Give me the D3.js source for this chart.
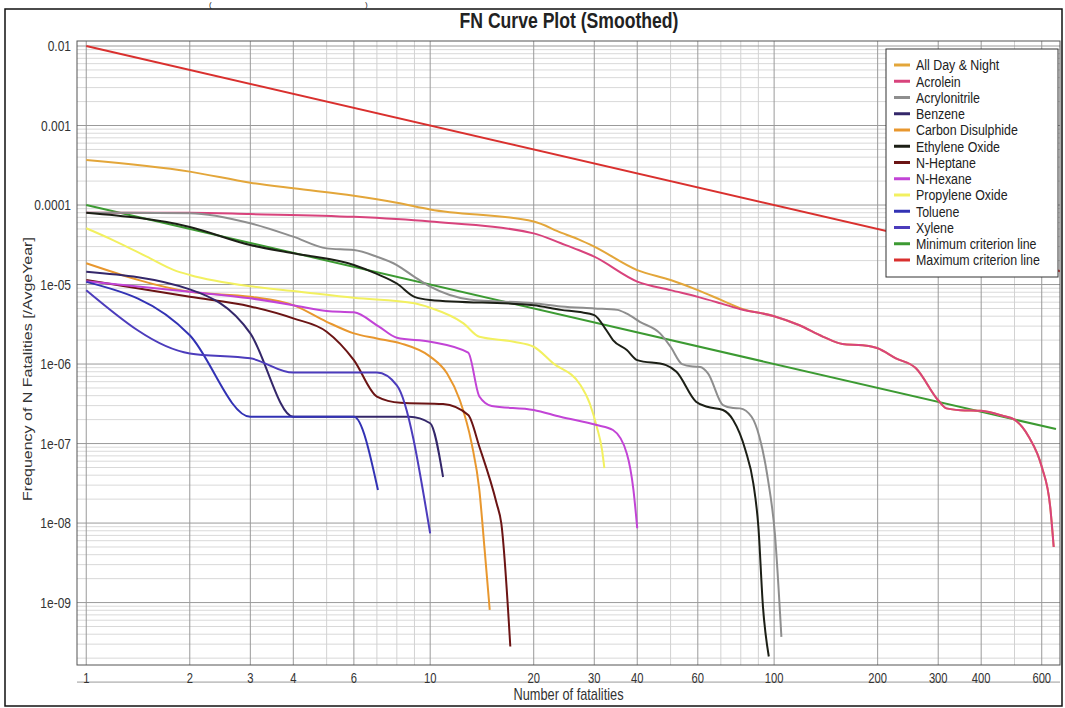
<!DOCTYPE html>
<html lang="en">
<head>
<meta charset="UTF-8">
<title>FN Curve Plot (Smoothed)</title>
<script src="https://d3js.org/d3.v7.min.js"></script>
<style>
  body { margin: 0; background: #fff; }
  svg { display: block; font-family: "Liberation Sans", Arial, sans-serif; }
</style>
</head>
<body>
<svg id="chart"></svg>
<script>
// --- data: [N fatalities, frequency /yr] ---
const seriesNames = ["All Day & Night", "Acrolein", "Acrylonitrile", "Benzene", "Carbon Disulphide",
  "Ethylene Oxide", "N-Heptane", "N-Hexane", "Propylene Oxide", "Toluene", "Xylene",
  "Minimum criterion line", "Maximum criterion line"];
const seriesColors = ["#e3a63a", "#d8437c", "#8e8e8e", "#34276a", "#e8972e",
  "#1c1f16", "#6b1414", "#c244d6", "#f2f060", "#3232b4", "#4c3cbc",
  "#3c9a32", "#d9302e"];

const allDayNight = [[1,3.68e-4],[2,2.63e-4],[3,1.91e-4],[4,1.62e-4],[6,1.31e-4],[8,1.07e-4],[10,8.8e-5],
  [20,6.2e-5],[24,4.5e-5],[27,3.7e-5],[30,3.0e-5],[40,1.52e-5],[50,1.14e-5],[60,8.5e-6],[70,6.4e-6],
  [80,5.0e-6],[100,4.0e-6],[118,3.1e-6],[139,2.2e-6],[158,1.79e-6],[181,1.72e-6],[200,1.58e-6],
  [226,1.18e-6],[258,8.9e-7],[300,3.5e-7],[317,2.77e-7],[348,2.63e-7],[400,2.58e-7],[464,2.22e-7],
  [500,2.0e-7],[550,1.22e-7],[600,5.1e-8],[635,1.6e-8],[650,5.0e-9]];
const acrolein = [[1,8.0e-5],[2,8.0e-5],[3,7.7e-5],[6,7.1e-5],[10,6.2e-5],[20,4.4e-5],[24,3.3e-5],
  [27,2.72e-5],[30,2.24e-5],[40,1.09e-5],[50,8.5e-6],[60,7.0e-6],[70,5.8e-6],[80,4.9e-6],
  [100,4.0e-6],[118,3.1e-6],[139,2.2e-6],[158,1.79e-6],[181,1.72e-6],[200,1.58e-6],[226,1.18e-6],
  [258,8.9e-7],[300,3.5e-7],[317,2.77e-7],[348,2.63e-7],[400,2.58e-7],[464,2.22e-7],[500,2.0e-7],
  [550,1.22e-7],[600,5.1e-8],[635,1.6e-8],[650,5.0e-9]];
const acrylonitrile = [[1,8.0e-5],[2,7.9e-5],[3,5.9e-5],[4,4.0e-5],[5,2.85e-5],[6,2.72e-5],[7,2.24e-5],
  [8,1.76e-5],[9,1.25e-5],[10,9.4e-6],[11.4,7.4e-6],[13,6.5e-6],[20,5.8e-6],[24,5.3e-6],[30,5.0e-6],
  [35,4.8e-6],[37.3,4.3e-6],[40.7,3.4e-6],[46.6,2.43e-6],[50,1.65e-6],[54,1.0e-6],[58,9.3e-7],
  [61,9.2e-7],[64.3,7.6e-7],[71,3.05e-7],[76,2.8e-7],[79.5,2.77e-7],[86,2.17e-7],[90.6,1.22e-7],
  [96,3.5e-8],[100.5,7.4e-9],[105,3.7e-10]];
const benzene = [[1,1.45e-5],[2,8.7e-6],[3,2.43e-6],[4,2.17e-7],[8.7,2.17e-7],[10,1.8e-7],[10.9,3.8e-8]];
const carbonDisulphide = [[1,1.85e-5],[2,8.1e-6],[3,7.0e-6],[4,5.5e-6],[5,3.4e-6],[6,2.43e-6],[7,2.1e-6],
  [8.2,1.82e-6],[10,1.24e-6],[11.2,7.6e-7],[12.2,3.5e-7],[13.2,1.0e-7],[13.9,2.6e-8],[14.4,4.6e-9],
  [14.9,8.1e-10]];
const ethyleneOxide = [[1,8.0e-5],[2,5.3e-5],[3,3.14e-5],[4,2.47e-5],[6,1.76e-5],[7,1.36e-5],[8,1.03e-5],
  [9,7.0e-6],[10,6.4e-6],[20,5.5e-6],[24,4.8e-6],[27.3,4.5e-6],[30,4.13e-6],[32.5,2.68e-6],[34,2.0e-6],
  [37.3,1.5e-6],[40,1.12e-6],[48.5,9.7e-7],[52,8.0e-7],[59.3,3.36e-7],[63.9,2.9e-7],[71,2.64e-7],
  [76,1.98e-7],[82.5,8.3e-8],[87,3.16e-8],[90,9.0e-9],[92.8,8.9e-10],[96.5,2.1e-10]];
const nHeptane = [[1,1.14e-5],[2,7.0e-6],[3,5.3e-6],[4,3.75e-6],[5,2.55e-6],[6,1.12e-6],[7,3.9e-7],
  [8.2,3.26e-7],[10.9,3.14e-7],[12.9,2.28e-7],[13.9,9.1e-8],[15.6,1.77e-8],[16.1,9.9e-9],[17.1,2.8e-10]];
const nHexane = [[1,1.1e-5],[2,8.1e-6],[3,6.7e-6],[4,5.5e-6],[5,4.65e-6],[6,4.47e-6],[7.1,2.95e-6],
  [8,2.14e-6],[10,1.91e-6],[12.9,1.39e-6],[13.9,3.9e-7],[15.1,2.97e-7],[20,2.64e-7],[23.9,2.17e-7],
  [30.5,1.71e-7],[34,1.48e-7],[37.3,7.5e-8],[39,2.6e-8],[40,8.6e-9]];
const propyleneOxide = [[1,5.1e-5],[1.2,3.6e-5],[1.5,2.24e-5],[1.8,1.52e-5],[2,1.32e-5],[3,9.5e-6],
  [4,8.3e-6],[6,6.8e-6],[9,5.8e-6],[10,5.1e-6],[12.5,3.25e-6],[13.9,2.2e-6],[17.5,1.91e-6],[20,1.65e-6],
  [22.8,1.02e-6],[27.3,5.5e-7],[29.1,3.2e-7],[30.5,1.63e-7],[31.6,8.3e-8],[32.1,4.9e-8]];
const toluene = [[1,1.08e-5],[2,2.3e-6],[3,2.17e-7],[6,2.17e-7],[7.05,2.6e-8]];
const xylene = [[1,8.5e-6],[2,1.36e-6],[3,1.18e-6],[4,7.8e-7],[7,7.8e-7],[8,5.4e-7],[10,7.4e-9]];
const minCriterion = [[1,1e-4],[660,1.52e-7]];
const maxCriterion = [[1,1e-2],[680,1.47e-5]];

const seriesData = [allDayNight, acrolein, acrylonitrile, benzene, carbonDisulphide, ethyleneOxide,
  nHeptane, nHexane, propyleneOxide, toluene, xylene, minCriterion, maxCriterion];

const xTickLabels = [1, 2, 3, 4, 6, 10, 20, 30, 40, 60, 100, 200, 300, 400, 600];
const yTickLabels = ["0.01", "0.001", "0.0001", "1e-05", "1e-06", "1e-07", "1e-08", "1e-09"];

// --- layout ---
const width = 1065, height = 708;
const plot = { left: 77, top: 41, right: 1060, bottom: 665 };
const squeeze = 0.8;  // the source picture is squashed sideways, text looks narrow

const svg = d3.select("#chart").attr("width", width).attr("height", height);

// outer frame + bits of the caption cut off above
svg.append("rect").attr("x", 5).attr("y", 9).attr("width", 1057).attr("height", 697)
  .attr("fill", "#fff").attr("stroke", "#111").attr("stroke-width", 1.5);
svg.append("text").attr("x", 209).attr("y", 7).attr("font-size", 8).attr("fill", "#222").text("(");
svg.append("text").attr("x", 365).attr("y", 7).attr("font-size", 8).attr("fill", "#222").text(")");

const x = d3.scaleLog().domain([0.94, 678]).range([plot.left, plot.right]);
const y = d3.scaleLog().domain([1.64e-10, 0.01156]).range([plot.bottom, plot.top]);

// grid
const xMinor = [], xMajor = xTickLabels;
[1, 10, 100].forEach(d => { for (let k = 1; k <= 9; k++) { const v = k * d; if (v <= 670 && !xMajor.includes(v)) xMinor.push(v); } });
const yMajor = d3.range(-10, -1).map(e => Math.pow(10, e));
const yMinor = [];
d3.range(-10, -2).forEach(e => { for (let k = 2; k <= 9; k++) { const v = k * Math.pow(10, e); if (v > 1.64e-10) yMinor.push(v); } });

const grid = svg.append("g");
grid.selectAll(".ymin").data(yMinor).join("line")
  .attr("x1", plot.left).attr("x2", plot.right).attr("y1", d => y(d)).attr("y2", d => y(d))
  .attr("stroke", "#d9d9d9").attr("stroke-width", 1);
grid.selectAll(".xmin").data(xMinor).join("line")
  .attr("y1", plot.top).attr("y2", plot.bottom).attr("x1", d => x(d)).attr("x2", d => x(d))
  .attr("stroke", "#d2d2d2").attr("stroke-width", 1);
grid.selectAll(".ymaj").data(yMajor).join("line")
  .attr("x1", plot.left).attr("x2", plot.right).attr("y1", d => y(d)).attr("y2", d => y(d))
  .attr("stroke", "#9a9a9a").attr("stroke-width", 1);
grid.selectAll(".xmaj").data(xMajor).join("line")
  .attr("y1", plot.top).attr("y2", plot.bottom).attr("x1", d => x(d)).attr("x2", d => x(d))
  .attr("stroke", "#9a9a9a").attr("stroke-width", 1);

// curves
svg.append("clipPath").attr("id", "clip").append("rect")
  .attr("x", plot.left).attr("y", plot.top).attr("width", plot.right - plot.left).attr("height", plot.bottom - plot.top);

const line = d3.line().x(d => x(d[0])).y(d => y(d[1])).curve(d3.curveMonotoneX);
const drawOrder = [11, 12, 0, 1, 2, 5, 8, 4, 6, 7, 3, 9, 10];
svg.append("g").attr("clip-path", "url(#clip)")
  .selectAll("path").data(drawOrder).join("path")
  .attr("d", i => line(seriesData[i]))
  .attr("fill", "none").attr("stroke", i => seriesColors[i])
  .attr("stroke-width", 2).attr("stroke-linejoin", "round");

// plot border
svg.append("rect").attr("x", plot.left).attr("y", plot.top)
  .attr("width", plot.right - plot.left).attr("height", plot.bottom - plot.top)
  .attr("fill", "none").attr("stroke", "#555").attr("stroke-width", 1);

// axes labels (narrowed)
svg.append("g").selectAll("g").data(yTickLabels).join("g")
  .attr("transform", d => `translate(71,${y(+d)}) scale(${squeeze},1)`)
  .append("text").attr("dy", "0.35em").attr("text-anchor", "end")
  .attr("font-size", 15).attr("fill", "#333").text(d => d);
svg.append("g").selectAll("g").data(xTickLabels).join("g")
  .attr("transform", d => `translate(${x(d)},678) scale(${squeeze},1)`)
  .append("text").attr("dy", "0.35em").attr("text-anchor", "middle")
  .attr("font-size", 14).attr("fill", "#333").text(d => d);

svg.append("g").attr("transform", `translate(${(plot.left + plot.right) / 2},694) scale(${squeeze},1)`)
  .append("text").attr("dy", "0.35em").attr("text-anchor", "middle")
  .attr("font-size", 16).attr("fill", "#333").text("Number of fatalities");
svg.append("g").attr("transform", `translate(28,369) rotate(-90) scale(1,${squeeze})`)
  .append("text").attr("dy", "0.35em").attr("text-anchor", "middle")
  .attr("font-size", 16).attr("fill", "#333").text("Frequency of N Fatalities [/AvgeYear]");

svg.append("g").attr("transform", `translate(569,28) scale(${squeeze},1)`)
  .append("text").attr("text-anchor", "middle")
  .attr("font-size", 22).attr("font-weight", "bold").attr("fill", "#222").text("FN Curve Plot (Smoothed)");

// legend
const legend = svg.append("g");
legend.append("rect").attr("x", 886).attr("y", 49).attr("width", 172).attr("height", 228)
  .attr("fill", "#fff").attr("stroke", "#333").attr("stroke-width", 1);
const item = legend.selectAll("g").data(seriesNames).join("g")
  .attr("transform", (d, i) => `translate(894,${65 + i * 16.25})`);
item.append("line").attr("x1", 0).attr("x2", 16).attr("stroke-width", 3)
  .attr("stroke", (d, i) => seriesColors[i]);
item.append("g").attr("transform", `translate(22,0) scale(${squeeze},1)`)
  .append("text").attr("dy", "0.35em").attr("font-size", 15.5).attr("fill", "#222")
  .text(d => d);
</script>
</body>
</html>
